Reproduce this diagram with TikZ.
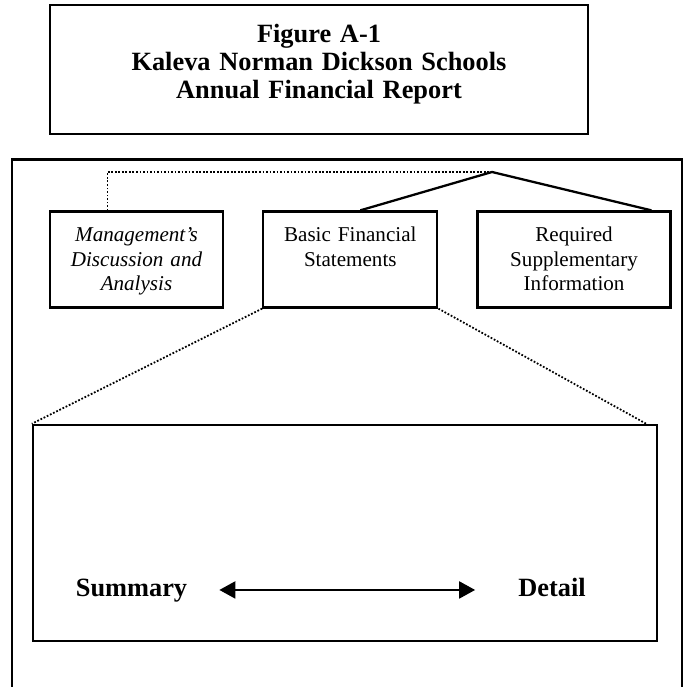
\documentclass[tikz,border=0pt]{standalone}
\usepackage{fontspec}
\setmainfont{Liberation Serif}
\usetikzlibrary{arrows.meta,positioning,calc}

\begin{document}
\begin{tikzpicture}[
    titlebox/.style={draw, line width=1.4pt, inner sep=0pt, align=center, text width=10.76cm,
      text height=0.76cm, text depth=1.82cm, font=\fontsize{15}{15.7}\selectfont\bfseries},
    partbox/.style={draw, line width=1.3pt, inner sep=0pt, align=center,
      text height=0.6cm, text depth=1.32cm, font=\fontsize{12}{14}\selectfont},
    stmtbox/.style={draw, line width=1.4pt, minimum width=12.48cm, minimum height=4.32cm},
    endlabel/.style={anchor=base, font=\fontsize{15}{18}\selectfont\bfseries},
    link/.style={line width=1.3pt},
    dotlink/.style={line width=1pt, densely dotted},
    twoway/.style={{Triangle[length=0.32cm,width=0.34cm]}-{Triangle[length=0.32cm,width=0.34cm]}, line width=1.2pt}
  ]
    \useasboundingbox (0,0) rectangle (13.68,13.74);

    \node[titlebox] (title) at (6.38,12.35) {Figure A-1\\Kaleva Norman Dickson Schools\\Annual Financial Report};

    % open frame round the report parts
    \draw[link] (0.24,-0.2) |- (13.64,10.55) -- (13.64,-0.2);

    \node[partbox, text width=3.46cm] (mda) at (2.73,8.55) {\itshape Management’s\\\itshape Discussion and\\\itshape Analysis};
    \node[partbox, text width=3.48cm, right=0.76cm of mda] (bfs) {Basic Financial\\Statements};
    \node[partbox, text width=3.86cm, right=0.76cm of bfs] (rsi) {Required\\Supplementary\\Information};

    \coordinate (apex) at (9.84,10.3);
    \draw[dotlink] ($(mda.north west)!0.335!(mda.north east)$) |- (apex);
    \draw[link] ($(bfs.north west)!0.557!(bfs.north east)$) -- (apex) -- ($(rsi.north west)!0.896!(rsi.north east)$);

    \node[stmtbox] (stmts) at (6.9,3.08) {};
    \draw[dotlink] (bfs.south west) -- (stmts.north west);
    \draw[dotlink] (bfs.south east) -- ([xshift=-0.24cm]stmts.north east);

    \node[endlabel] (summary) at (2.63,1.8) {Summary};
    \node[endlabel] (detail) at (11.04,1.8) {Detail};
    \draw[twoway, shorten <=0.52cm, shorten >=0.74cm] ([yshift=0.06cm]summary.mid east) -- ([yshift=0.06cm]detail.mid west);
  \end{tikzpicture}
\end{document}
